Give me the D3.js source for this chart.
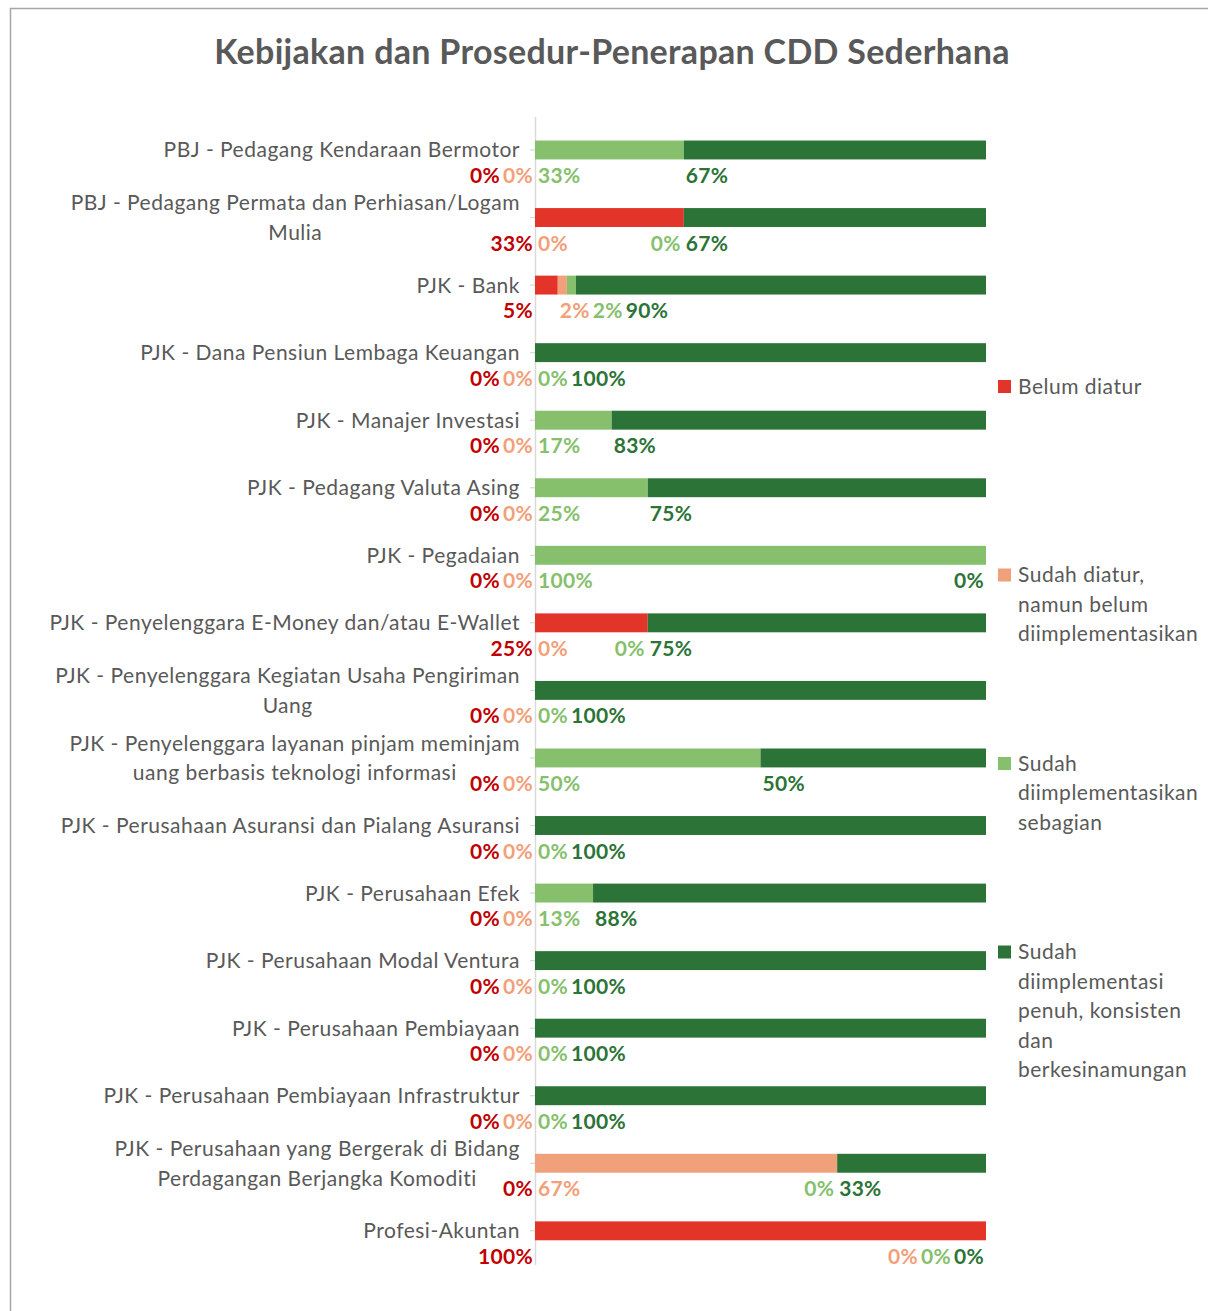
<!DOCTYPE html>
<html>
<head>
<meta charset="utf-8">
<script src="https://cdn.jsdelivr.net/npm/d3@7"></script>
<style>
  html, body { margin: 0; padding: 0; background: #fff; }
  svg { display: block; font-family: Lato, "Open Sans", sans-serif; }
</style>
</head>
<body>
<svg id="chart" width="1208" height="1311"></svg>
<script>
// Sector names (line breaks mark where long names wrap)
const categories = [
  "PBJ - Pedagang Kendaraan Bermotor",
  "PBJ - Pedagang Permata dan Perhiasan/Logam\nMulia",
  "PJK - Bank",
  "PJK - Dana Pensiun Lembaga Keuangan",
  "PJK - Manajer Investasi",
  "PJK - Pedagang Valuta Asing",
  "PJK - Pegadaian",
  "PJK - Penyelenggara E-Money dan/atau E-Wallet",
  "PJK - Penyelenggara Kegiatan Usaha Pengiriman\nUang",
  "PJK - Penyelenggara layanan pinjam meminjam\nuang berbasis teknologi informasi",
  "PJK - Perusahaan Asuransi dan Pialang Asuransi",
  "PJK - Perusahaan Efek",
  "PJK - Perusahaan Modal Ventura",
  "PJK - Perusahaan Pembiayaan",
  "PJK - Perusahaan Pembiayaan Infrastruktur",
  "PJK - Perusahaan yang Bergerak di Bidang\nPerdagangan Berjangka Komoditi",
  "Profesi-Akuntan"
];

// Percentages per status, one value per sector
const belumDiatur      = [0, 33, 5, 0, 0, 0, 0, 25, 0, 0, 0, 0, 0, 0, 0, 0, 100];
const sudahDiatur      = [0, 0, 2, 0, 0, 0, 0, 0, 0, 0, 0, 0, 0, 0, 0, 67, 0];
const sebagian         = [33, 0, 2, 0, 17, 25, 100, 0, 0, 50, 0, 13, 0, 0, 0, 0, 0];
const penuh            = [67, 67, 90, 100, 83, 75, 0, 75, 100, 50, 100, 88, 100, 100, 100, 33, 0];

const seriesNames = [
  "Belum diatur",
  "Sudah diatur,\nnamun belum\ndiimplementasikan",
  "Sudah\ndiimplementasikan\nsebagian",
  "Sudah\ndiimplementasi\npenuh, konsisten\ndan\nberkesinamungan"
];
const seriesKeys   = ["belum", "diatur", "sebagian", "penuh"];
const fillColors   = ["#E3342A", "#F0A07A", "#86C06C", "#2C7337"];
const labelColors  = ["#C00000", "#F29F7A", "#86C06C", "#2C7337"];

const title = "Kebijakan dan Prosedur-Penerapan CDD Sederhana";

// Build the table the stack layout needs
const rows = categories.map((c, i) => ({
  category: c,
  belum: belumDiatur[i],
  diatur: sudahDiatur[i],
  sebagian: sebagian[i],
  penuh: penuh[i]
}));

const stacked = d3.stack()
  .keys(seriesKeys)
  .offset(d3.stackOffsetExpand)(rows);

const svg = d3.select("#chart");
const textGray = "#595959";

// Outer frame (top and left edges)
svg.append("path")
  .attr("d", "M10.5,1311 L10.5,8.5 L1208,8.5")
  .attr("fill", "none")
  .attr("stroke", "#a6a6a6")
  .attr("stroke-width", 1.5);

// Title
svg.append("text")
  .attr("x", 612)
  .attr("y", 64)
  .attr("text-anchor", "middle")
  .attr("font-size", 34)
  .attr("letter-spacing", 0.3)
  .attr("font-weight", 700)
  .attr("fill", textGray)
  .text(title);

const x = d3.scaleLinear().domain([0, 1]).range([535, 986]);
const y = d3.scaleBand()
  .domain(categories)
  .range([116.2, 1264.6])
  .paddingInner(0.72)
  .paddingOuter(0.36);

// Category axis
const axisG = svg.append("g")
  .attr("transform", `translate(${x(0)},0)`)
  .call(d3.axisLeft(y).tickSize(5).tickSizeOuter(0).tickFormat(""));
axisG.select(".domain").attr("stroke", "#d9d9d9").attr("stroke-width", 1.5);
axisG.selectAll(".tick line").attr("stroke", "#d9d9d9").attr("stroke-width", 1.2);

// Category labels, multi-line names centred as a block
const catFont = 21;
const catSpacing = 0.5;
const lineH = 29.5;
const labelRight = 520;
categories.forEach(c => {
  const lines = c.split("\n");
  const cy = y(c) + y.bandwidth() / 2;
  const g = svg.append("g");
  const texts = lines.map((ln, j) => g.append("text")
    .attr("y", cy + (j - (lines.length - 1) / 2) * lineH + 7.5)
    .attr("font-size", catFont)
    .attr("letter-spacing", catSpacing)
    .attr("fill", textGray)
    .text(ln));
  if (lines.length === 1) {
    texts[0].attr("x", labelRight).attr("text-anchor", "end");
  } else {
    const maxW = d3.max(texts, t => t.node().getComputedTextLength());
    texts.forEach(t => t.attr("x", labelRight - maxW / 2).attr("text-anchor", "middle"));
  }
});

// Bars
stacked.forEach((s, k) => {
  svg.append("g")
    .attr("fill", fillColors[k])
    .selectAll("rect")
    .data(s)
    .join("rect")
    .attr("x", d => x(d[0]))
    .attr("width", d => Math.max(0, x(d[1]) - x(d[0])))
    .attr("y", d => y(d.data.category))
    .attr("height", y.bandwidth());
});

// Value labels below each bar
const valFont = 21;
const gap = 3;
const labelG = svg.append("g")
  .attr("font-size", valFont)
  .attr("letter-spacing", 0.3)
  .attr("font-weight", 700);
categories.forEach((c, i) => {
  const base = y(c) + y.bandwidth() / 2 + 33;
  const segs = stacked.map((s, k) => ({
    k,
    value: rows[i][seriesKeys[k]],
    x0: x(s[i][0]),
    x1: x(s[i][1])
  }));
  segs.forEach(sg => {
    sg.node = labelG.append("text")
      .attr("y", base)
      .attr("fill", labelColors[sg.k])
      .text(sg.value + "%");
    sg.w = sg.node.node().getComputedTextLength();
  });

  // Left of the axis: the first status, plus an empty second status when the first is empty too
  const left = [segs[0]];
  if (segs[0].value === 0 && segs[1].value === 0) left.push(segs[1]);
  const right = segs.filter(sg => !left.includes(sg));

  let edge = x(0) - 2;
  for (let j = left.length - 1; j >= 0; j--) {
    left[j].left = edge - left[j].w;
    edge = left[j].left - gap;
  }

  // Right of the axis: place at segment starts, then push apart
  const end = x(1);
  let prevRight = x(0);
  right.forEach(sg => {
    let want;
    if (sg.value > 0) want = sg.x0 + 2;
    else if (sg.x0 >= end - 1) want = end;            // empty segment at the bar's end
    else if (sg.k === 1) want = prevRight + gap;       // empty "diatur" follows the previous label
    else if (sg.x0 > x(0) + 1) want = sg.x0 - 3 - sg.w; // sits just before the next segment
    else want = prevRight + gap;
    sg.left = Math.max(want, prevRight + gap);
    prevRight = sg.left + sg.w;
  });
  let nextLeft = end - 2 + gap;
  for (let j = right.length - 1; j >= 0; j--) {
    const sg = right[j];
    if (sg.left + sg.w > nextLeft - gap) sg.left = nextLeft - gap - sg.w;
    nextLeft = sg.left;
  }
  segs.forEach(sg => sg.node.attr("x", sg.left));
});

// Legend
const legendY0 = 386;
const legendStep = 188.5;
seriesNames.forEach((name, k) => {
  const ly = legendY0 + k * legendStep;
  svg.append("rect")
    .attr("x", 998).attr("y", ly - 6)
    .attr("width", 13).attr("height", 13)
    .attr("fill", fillColors[k]);
  name.split("\n").forEach((ln, j) => {
    svg.append("text")
      .attr("x", 1018)
      .attr("y", ly + j * lineH + 7.5)
      .attr("font-size", catFont)
      .attr("letter-spacing", catSpacing)
      .attr("fill", textGray)
      .text(ln);
  });
});
</script>
</body>
</html>
